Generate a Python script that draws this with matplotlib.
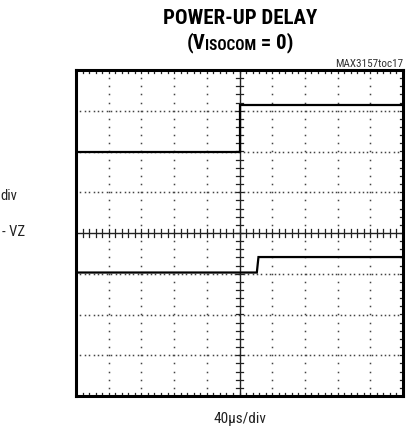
import numpy as np
import matplotlib
matplotlib.use("Agg")
import matplotlib.pyplot as plt
from matplotlib import font_manager

# scope traces in divisions (x: -5..5, y: -4..4)
top_x = [-5, 0, 0, 5]
top_y = [2.0, 2.0, 3.13, 3.13]
bottom_x = [-5, 0.53, 0.58, 5]
bottom_y = [-0.97, -0.97, -0.59, -0.59]

names = {f.name for f in font_manager.fontManager.ttflist}
fams = [f for f in ["Roboto Condensed", "Barlow Condensed", "Archivo Narrow"] if f in names]
plt.rcParams["font.family"] = fams[:1] + ["DejaVu Sans"]

fig = plt.figure(figsize=(4.17, 4.29), dpi=100)
ax = fig.add_axes([76 / 417, 33 / 429, 327 / 417, 326 / 429])
ax.set_xlim(-5, 5)
ax.set_ylim(-4, 4)
ax.set_xticks([])
ax.set_yticks([])
for s in ax.spines.values():
    s.set_linewidth(2.2)

# graticule dots
for gx in range(-4, 5):
    if gx == 0:
        continue
    ys = np.arange(-4, 4.01, 0.2)
    ax.plot([gx] * len(ys), ys, ls="none", marker="s", ms=1.1, color="#444444", mew=0)
for gy in range(-3, 4):
    if gy == 0:
        continue
    xs = np.arange(-5, 5.01, 0.135)
    ax.plot(xs, [gy] * len(xs), ls="none", marker="s", ms=1.1, color="#444444", mew=0)

# center axes with minor ticks
ax.axhline(0, color="#222222", lw=1.0)
ax.axvline(0, color="#222222", lw=1.0)
for t in np.arange(-5, 5.01, 0.2):
    ax.plot([t, t], [-0.09, 0.09], color="#222222", lw=0.9)
    ax.plot([t, t], [-4, -3.93], color="#222222", lw=0.9)
    ax.plot([t, t], [4, 3.93], color="#222222", lw=0.9)
for t in np.arange(-4, 4.01, 0.2):
    ax.plot([-0.12, 0.12], [t, t], color="#222222", lw=0.9)
    ax.plot([4.92, 5], [t, t], color="#222222", lw=0.9)

# traces
ax.plot(top_x, top_y, color="black", lw=1.6, solid_joinstyle="miter")
ax.plot(bottom_x, bottom_y, color="black", lw=1.6, solid_joinstyle="miter")

# title
fig.text(240 / 417, 1 - 18 / 429, "POWER-UP DELAY", ha="center", va="center",
         fontsize=15, fontweight="heavy")
renderer = fig.canvas.get_renderer()
parts = [("(V", 15, 0), ("ISOCOM", 11, -2), (" = 0)", 15, 0)]
texts = []
for s, fs, dy in parts:
    texts.append(fig.text(0, 0, s, fontsize=fs, fontweight="heavy", va="baseline"))
widths = [t.get_window_extent(renderer).width for t in texts]
x = 240 - sum(widths) / 2
base = 429 - 48
for t, w, (s, fs, dy) in zip(texts, widths, parts):
    t.set_position((x / 417, (base + dy) / 429))
    x += w

fig.text(403 / 417, 1 - 64 / 429, "MAX3157toc17", ha="right", va="center",
         fontsize=8, color="#333333")
fig.text(240 / 417, 1 - 419 / 429, "40\u00b5s/div", ha="center", va="center",
         fontsize=11, color="#222222")
fig.text(17 / 417, 1 - 196 / 429, "div", ha="right", va="center",
         fontsize=10.5, color="#222222")
fig.text(25 / 417, 1 - 232 / 429, "- VZ", ha="right", va="center",
         fontsize=10.5, color="#222222")

fig.savefig("out.png", dpi=100)
